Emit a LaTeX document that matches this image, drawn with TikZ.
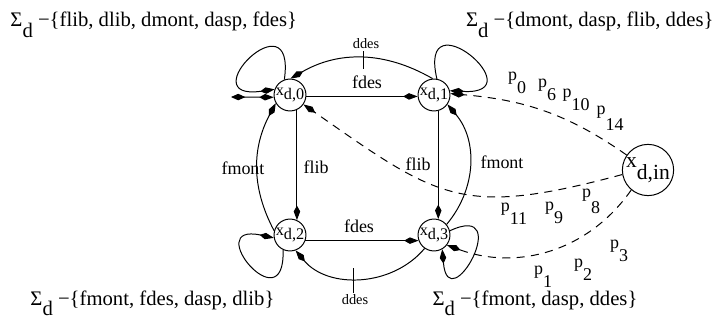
\documentclass[tikz,border=0pt]{standalone}
\usepackage{fontspec}
\setmainfont{Liberation Serif}
\usetikzlibrary{arrows.meta}

% lowered index, the way the figure sets it
\newcommand{\lowsub}[2][0.45em]{\raisebox{-#1}{#2}}

\begin{document}
\begin{tikzpicture}[x=0.01955cm, y=-0.01955cm, line width=0.55pt,
  >={Kite[length=8pt, width=3.6pt, inset=3.2pt]},
  state/.style={draw, circle, inner sep=0pt, minimum size=17.5pt, font=\small},
  lbl/.style={inner sep=1pt},
  tlbl/.style={inner sep=1pt, font=\footnotesize},
  plbl/.style={inner sep=0pt},
  sig/.style={inner sep=0pt, font=\fontsize{11.5}{14}\selectfont},
  roundloop/.style={distance=48pt},
  dashline/.style={dash pattern=on 4.5pt off 3.5pt}]
  \useasboundingbox (0,0) rectangle (717,333);

  % states
  \node[state] (x0) at (290,95) {x\lowsub[0.3em]{d,0}};
  \node[state] (x1) at (434,95) {x\lowsub[0.3em]{d,1}};
  \node[state] (x2) at (290,235) {x\lowsub[0.3em]{d,2}};
  \node[state] (x3) at (434,235) {x\lowsub[0.3em]{d,3}};
  \node[state, minimum size=28.5pt, font=\large] (xin) at (648,170) {x\lowsub[0.55em]{d,in}};
  \coordinate (init) at (231,97);

  % sets of events
  \node[sig, anchor=base west] (s0) at (10,27) {Σ\lowsub[0.5em]{d} −\{flib, dlib, dmont, dasp, fdes\}};
  \node[sig, anchor=base east] (s1) at (714,27) {Σ\lowsub[0.5em]{d} −\{dmont, dasp, flib, ddes\}};
  \node[sig, anchor=base west] (s2) at (30,305) {Σ\lowsub[0.5em]{d} −\{fmont, fdes, dasp, dlib\}};
  \node[sig, anchor=base west] (s3) at (432,305) {Σ\lowsub[0.5em]{d} −\{fmont, dasp, ddes\}};

  % edge labels
  \node[lbl] (fdesT) at (367,82) {fdes};
  \node[lbl] (fdesB) at (359,226) {fdes};
  \node[lbl] (flibL) at (316,167) {flib};
  \node[lbl] (flibR) at (418,164) {flib};
  \node[lbl] (fmontL) at (243,168) {fmont};
  \node[lbl] (fmontR) at (502,162) {fmont};
  \node[tlbl] (ddesT) at (366,44) {ddes};
  \node[tlbl] (ddesB) at (355,300) {ddes};
  \coordinate (tickT) at (363,69);
  \coordinate (tickB) at (353,268);

  % event labels on the dashed arcs
  \node[plbl] (p0) at (517,83) {p\lowsub[0.7em]{0}};
  \node[plbl] (p6) at (547,90) {p\lowsub[0.7em]{6}};
  \node[plbl] (p10) at (576,100) {p\lowsub[0.7em]{10}};
  \node[plbl] (p14) at (610,118) {p\lowsub[0.9em]{14}};
  \node[plbl] (p11) at (514,214) {p\lowsub[0.7em]{11}};
  \node[plbl] (p9) at (554,213) {p\lowsub[0.7em]{9}};
  \node[plbl] (p8) at (591,201) {p\lowsub[0.9em]{8}};
  \node[plbl] (p1) at (543,277) {p\lowsub[0.7em]{1}};
  \node[plbl] (p2) at (583,270) {p\lowsub[0.7em]{2}};
  \node[plbl] (p3) at (619,251) {p\lowsub[0.7em]{3}};

  % transitions between the states
  \draw[{Kite[length=8pt, width=3.6pt, inset=4pt]}->] (init) -- (x0.188);
  \draw[->] (x0.-5) -- (x1.185);
  \draw[->] (x2.-20) -- (x3.200);
  \draw[->] (x0.-65) -- (x2.65);
  \draw[->] (x1.-75) -- (x3.75);
  \draw[->] (x1.95) to[out=150, in=30] (x0.88);
  \draw[->] (x3.235) to[out=230, in=-50] (x2.-70);
  \draw[->] (x2.165) to[out=118, in=242] (x0.210);
  \draw[->] (x3.40) to[out=50, in=-50] (x1.-35);
  \draw (ddesT.south -| tickT) -- (tickT);
  \draw (ddesB.north -| tickB) -- (tickB);

  % self loops
  \draw[->] (x0.110) to[out=82, in=188, roundloop] (x0.160);
  \draw[->] (x1.80) to[out=103, in=-3, roundloop] (x1.15);
  \draw[->] (x2.245) to[out=272, in=168, roundloop, distance=42pt] (x2.190);
  \draw[->] (x3.15) to[out=25, in=-85, roundloop, distance=40pt] (x3.-60);

  % from the initial state
  \draw[->, dashline] (xin.145) to[out=145, in=-5] (x1.5);
  \draw[->, dashline] (xin.190) to[out=195, in=-35, looseness=1.3] (x0.-35);
  \draw[->, dashline] (xin.230) to[out=235, in=-20] (x3.-38);
\end{tikzpicture}
\end{document}
